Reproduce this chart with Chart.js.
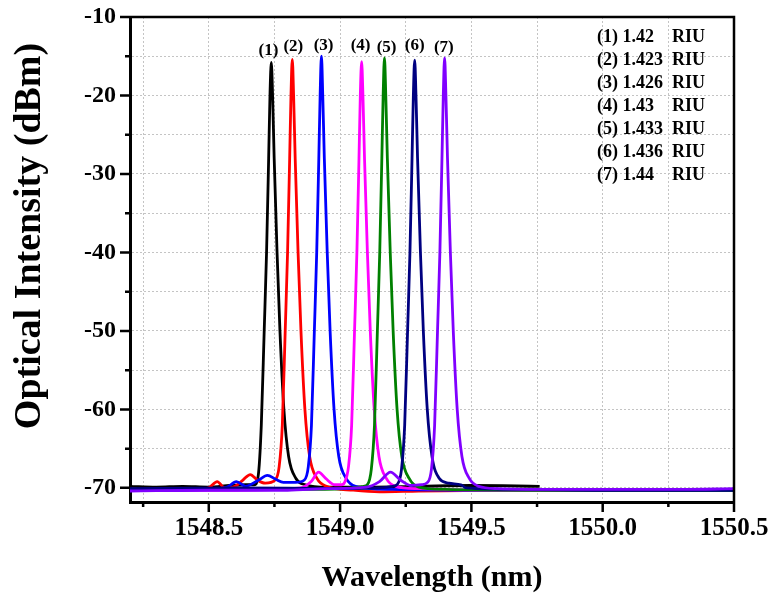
<!DOCTYPE html>
<html>
<head>
<meta charset="utf-8">
<script src="https://cdn.jsdelivr.net/npm/chart.js@4"></script>
<style>
  body { margin: 0; background: #fff; }
</style>
</head>
<body>
<canvas id="chart" width="774" height="599"></canvas>
<script>
// spectra: [wavelength nm, intensity dBm]
const s1 = [[1548.20,-69.8],[1548.30,-69.9],[1548.40,-69.8],[1548.50,-69.9],[1548.58,-69.7],[1548.64,-69.6],[1548.673,-69.6],[1548.688,-68.5],[1548.700,-62],[1548.711,-50],[1548.720,-40],[1548.728,-28],[1548.733,-20],[1548.738,-15.8],[1548.743,-20],[1548.749,-28],[1548.760,-40],[1548.771,-50],[1548.786,-60],[1548.804,-66],[1548.832,-68.8],[1548.868,-69.6],[1548.95,-69.9],[1549.10,-69.9],[1549.30,-69.8],[1549.50,-69.7],[1549.76,-69.8]];
const s2 = [[1548.20,-70.3],[1548.45,-70.2],[1548.50,-70.0],[1548.532,-69.2],[1548.56,-70.0],[1548.60,-69.8],[1548.630,-69.0],[1548.658,-68.3],[1548.685,-69.0],[1548.715,-69.4],[1548.753,-69.0],[1548.768,-67.3],[1548.780,-62],[1548.791,-50],[1548.800,-40],[1548.808,-28],[1548.813,-20],[1548.818,-15.4],[1548.823,-20],[1548.829,-28],[1548.840,-40],[1548.851,-50],[1548.866,-60],[1548.884,-66],[1548.912,-68.8],[1548.948,-69.8],[1549.05,-70.3],[1549.15,-70.5],[1549.30,-70.4],[1549.60,-70.3],[1550.00,-70.3],[1550.50,-70.3]];
const s3 = [[1548.20,-70.3],[1548.50,-70.2],[1548.57,-69.9],[1548.605,-69.2],[1548.64,-69.8],[1548.69,-69.0],[1548.723,-68.4],[1548.755,-68.9],[1548.784,-69.3],[1548.83,-69.3],[1548.864,-69.0],[1548.879,-67.3],[1548.891,-62],[1548.902,-50],[1548.911,-40],[1548.919,-28],[1548.924,-20],[1548.929,-15.0],[1548.934,-20],[1548.940,-28],[1548.951,-40],[1548.962,-50],[1548.977,-60],[1548.995,-66],[1549.023,-68.8],[1549.059,-69.8],[1549.20,-70.2],[1549.50,-70.3],[1550.00,-70.3],[1550.50,-70.3]];
const s4 = [[1548.20,-70.3],[1548.60,-70.3],[1548.85,-70.0],[1548.89,-69.2],[1548.918,-68.0],[1548.945,-68.8],[1548.98,-69.6],[1549.005,-69.6],[1549.017,-69.3],[1549.032,-67.3],[1549.044,-62],[1549.055,-50],[1549.064,-40],[1549.072,-28],[1549.077,-20],[1549.082,-15.7],[1549.087,-20],[1549.093,-28],[1549.104,-40],[1549.115,-50],[1549.130,-60],[1549.148,-66],[1549.176,-68.8],[1549.212,-69.8],[1549.30,-70.1],[1549.60,-70.3],[1550.00,-70.3],[1550.50,-70.2]];
const s5 = [[1548.20,-70.2],[1548.60,-70.2],[1548.90,-70.2],[1549.05,-70.0],[1549.09,-69.8],[1549.104,-69.6],[1549.119,-67.6],[1549.131,-62],[1549.142,-50],[1549.151,-40],[1549.159,-28],[1549.164,-20],[1549.169,-15.2],[1549.174,-20],[1549.180,-28],[1549.191,-40],[1549.202,-50],[1549.217,-60],[1549.235,-66],[1549.263,-68.8],[1549.299,-69.9],[1549.40,-70.2],[1549.70,-70.3],[1550.00,-70.3],[1550.50,-70.3]];
const s6 = [[1548.20,-70.1],[1548.60,-70.0],[1549.00,-70.1],[1549.15,-70.0],[1549.20,-69.8],[1549.219,-69.5],[1549.234,-67.6],[1549.246,-62],[1549.257,-50],[1549.266,-40],[1549.274,-28],[1549.279,-20],[1549.284,-15.5],[1549.289,-20],[1549.295,-28],[1549.306,-40],[1549.317,-50],[1549.332,-60],[1549.350,-66],[1549.378,-68.8],[1549.414,-69.4],[1549.46,-69.6],[1549.48,-70.0],[1549.70,-70.2],[1550.00,-70.3],[1550.50,-70.3]];
const s7 = [[1548.20,-70.4],[1548.50,-70.3],[1548.80,-70.3],[1548.95,-70.1],[1549.10,-69.9],[1549.15,-69.2],[1549.192,-68.0],[1549.23,-69.0],[1549.27,-69.7],[1549.31,-69.6],[1549.333,-69.3],[1549.348,-67.6],[1549.360,-62],[1549.371,-50],[1549.380,-40],[1549.388,-28],[1549.393,-20],[1549.398,-15.2],[1549.403,-20],[1549.409,-28],[1549.420,-40],[1549.431,-50],[1549.446,-60],[1549.464,-66],[1549.492,-68.8],[1549.528,-69.8],[1549.60,-70.1],[1549.80,-70.2],[1550.00,-70.2],[1550.30,-70.2],[1550.50,-70.1]];

const series = [s1, s2, s3, s4, s5, s6, s7];
const colors = ['#000000', '#ff0000', '#0000ff', '#ff00ff', '#008000', '#000080', '#8000ff'];
const peakTags = ['(1)', '(2)', '(3)', '(4)', '(5)', '(6)', '(7)'];
const tagWl = [1548.727, 1548.822, 1548.937, 1549.078, 1549.177, 1549.284, 1549.395];
const tagDb = [-14.3, -13.8, -13.7, -13.7, -13.9, -13.7, -13.9];
const riValues = ['1.42', '1.423', '1.426', '1.43', '1.433', '1.436', '1.44'];

const SERIF = "'Liberation Serif', 'Times New Roman', serif";
const isMajorX = v => Math.abs(v * 2 - Math.round(v * 2)) < 1e-6;
const isMajorY = v => Math.abs(v / 10 - Math.round(v / 10)) < 1e-6;

// box, outward tick marks, titles, peak tags and the RIU list
const decorations = {
    id: 'decorations',
    afterDraw(chart) {
        const {ctx, chartArea: a, scales: {x, y}} = chart;
        ctx.save();
        ctx.strokeStyle = '#000';
        ctx.lineWidth = 2.5;
        ctx.beginPath();
        ctx.moveTo(a.left, a.top);
        ctx.lineTo(a.right, a.top);
        ctx.lineTo(a.right, a.bottom);
        for (let t of x.ticks) {
            let px = x.getPixelForValue(t.value);
            ctx.moveTo(px, a.bottom);
            ctx.lineTo(px, a.bottom + (isMajorX(t.value) ? 10 : 5));
        }
        for (let t of y.ticks) {
            let py = y.getPixelForValue(t.value);
            ctx.moveTo(a.left, py);
            ctx.lineTo(a.left - (isMajorY(t.value) ? 10 : 5), py);
        }
        ctx.stroke();

        ctx.fillStyle = '#000';
        ctx.textAlign = 'center';
        ctx.textBaseline = 'middle';
        ctx.font = 'bold 17px ' + SERIF;
        for (let i = 0; i < peakTags.length; i++) {
            ctx.fillText(peakTags[i], x.getPixelForValue(tagWl[i]), y.getPixelForValue(tagDb[i]));
        }

        ctx.textAlign = 'left';
        ctx.font = 'bold 18px ' + SERIF;
        for (let i = 0; i < riValues.length; i++) {
            let ty = 37 + i * 23;
            ctx.fillText(peakTags[i] + ' ' + riValues[i], 597, ty);
            ctx.fillText('RIU', 672, ty);
        }

        ctx.textAlign = 'center';
        ctx.font = 'bold 30px ' + SERIF;
        ctx.fillText('Wavelength (nm)', 432, 578);
        ctx.translate(30, 236);
        ctx.rotate(-Math.PI / 2);
        ctx.font = 'bold 38px ' + SERIF;
        ctx.fillText('Optical Intensity (dBm)', 0, 0);
        ctx.restore();
    }
};

const gridLines = {
    color: '#c4c4c4',
    lineWidth: 1,
    drawTicks: false
};

let chart = new Chart(document.getElementById('chart').getContext('2d'), {
    type: 'line',
    data: {
        datasets: series.map((s, i) => ({
            label: peakTags[i],
            data: s.map(p => ({x: p[0], y: p[1]})),
            borderColor: colors[i],
            borderWidth: 2.8,
            pointRadius: 0,
            fill: false,
            cubicInterpolationMode: 'monotone',
            order: series.length - i
        }))
    },
    options: {
        responsive: false,
        animation: false,
        layout: {padding: {top: 17, right: 40, left: 0, bottom: 0}},
        plugins: {legend: {display: false}, tooltip: {enabled: false}},
        scales: {
            x: {
                type: 'linear',
                min: 1548.2,
                max: 1550.5,
                afterFit: s => { s.height = 97; s.paddingLeft = 0; s.paddingRight = 0; },
                grid: gridLines,
                border: {color: '#000', width: 3, dash: [2, 2]},
                ticks: {
                    stepSize: 0.25,
                    includeBounds: false,
                    autoSkip: false,
                    maxRotation: 0,
                    padding: 12,
                    color: '#000',
                    font: {family: SERIF, size: 25, weight: 'bold'},
                    callback: v => isMajorX(v) ? v.toFixed(1) : ''
                }
            },
            y: {
                min: -71.8,
                max: -10,
                afterFit: s => { s.width = 130; s.paddingTop = 0; s.paddingBottom = 0; },
                grid: gridLines,
                border: {color: '#000', width: 3, dash: [2, 2]},
                ticks: {
                    stepSize: 5,
                    includeBounds: false,
                    autoSkip: false,
                    padding: 14,
                    color: '#000',
                    font: {family: SERIF, size: 24, weight: 'bold'},
                    callback: v => isMajorY(v) ? String(v) : ''
                }
            }
        }
    },
    plugins: [decorations]
});
</script>
</body>
</html>
